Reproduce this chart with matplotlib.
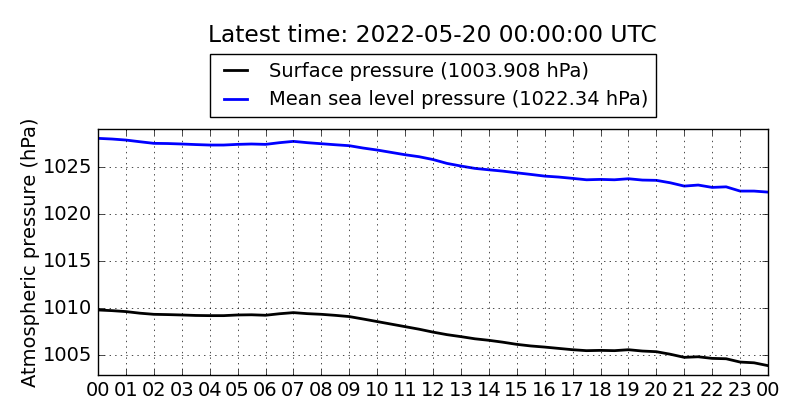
import numpy as np
import matplotlib
matplotlib.use('Agg')
import matplotlib.pyplot as plt
import matplotlib.dates as mdates
from datetime import datetime, timedelta

plt.style.use('classic')

# half-hourly readings, 2022-05-19 00:00 -> 2022-05-20 00:00 UTC
hours = np.arange(0, 24.5, 0.5)

surface = [1009.82, 1009.75, 1009.65, 1009.48, 1009.36, 1009.33, 1009.29, 1009.24,
           1009.22, 1009.22, 1009.29, 1009.31, 1009.26, 1009.42, 1009.54, 1009.43,
           1009.36, 1009.25, 1009.12, 1008.86, 1008.59, 1008.32, 1008.05, 1007.78,
           1007.47, 1007.20, 1006.99, 1006.76, 1006.60, 1006.40, 1006.17, 1006.00,
           1005.88, 1005.74, 1005.60, 1005.50, 1005.53, 1005.50, 1005.60, 1005.46,
           1005.39, 1005.12, 1004.79, 1004.85, 1004.68, 1004.64, 1004.29, 1004.21,
           1003.908]

mslp = [1028.05, 1027.98, 1027.87, 1027.69, 1027.52, 1027.50, 1027.45, 1027.39,
        1027.34, 1027.34, 1027.41, 1027.45, 1027.41, 1027.59, 1027.73, 1027.59,
        1027.48, 1027.37, 1027.27, 1027.02, 1026.81, 1026.56, 1026.31, 1026.10,
        1025.80, 1025.39, 1025.11, 1024.86, 1024.71, 1024.57, 1024.39, 1024.22,
        1024.04, 1023.94, 1023.80, 1023.65, 1023.69, 1023.65, 1023.76, 1023.62,
        1023.59, 1023.33, 1022.98, 1023.09, 1022.84, 1022.90, 1022.45, 1022.45,
        1022.34]

start = datetime(2022, 5, 19, 0, 0)
times = [start + timedelta(hours=float(h)) for h in hours]

fig = plt.figure(figsize=(8, 4.2), dpi=100, facecolor='white')
ax = fig.add_axes([0.1225, 0.107, 0.8375, 0.586])
ax.set_facecolor('white')

ax.plot(times, surface, c='k', lw=2, label='Surface pressure (%.3f hPa)' % surface[-1])
ax.plot(times, mslp, c='b', lw=2, label='Mean sea level pressure (%.2f hPa)' % mslp[-1])

ax.set_xlim(times[0], times[-1])
ax.set_ylim(min(surface) - 1, max(mslp) + 1)
ax.xaxis.set_major_locator(mdates.HourLocator())
ax.xaxis.set_major_formatter(mdates.DateFormatter('%H'))
ax.ticklabel_format(axis='y', useOffset=False)
ax.tick_params(labelsize=14)
ax.set_ylabel('Atmospheric pressure (hPa)', fontsize=14, labelpad=2)
ax.grid(True)

ax.legend(loc='lower center', bbox_to_anchor=(0.5, 1.008), fontsize=14,
          fancybox=False, framealpha=1, handlelength=1.8)
fig.text(0.541, 0.915, 'Latest time: 2022-05-20 00:00:00 UTC', ha='center',
         va='center', fontsize=16.8)

fig.savefig('out.png', dpi=100, facecolor='white')
